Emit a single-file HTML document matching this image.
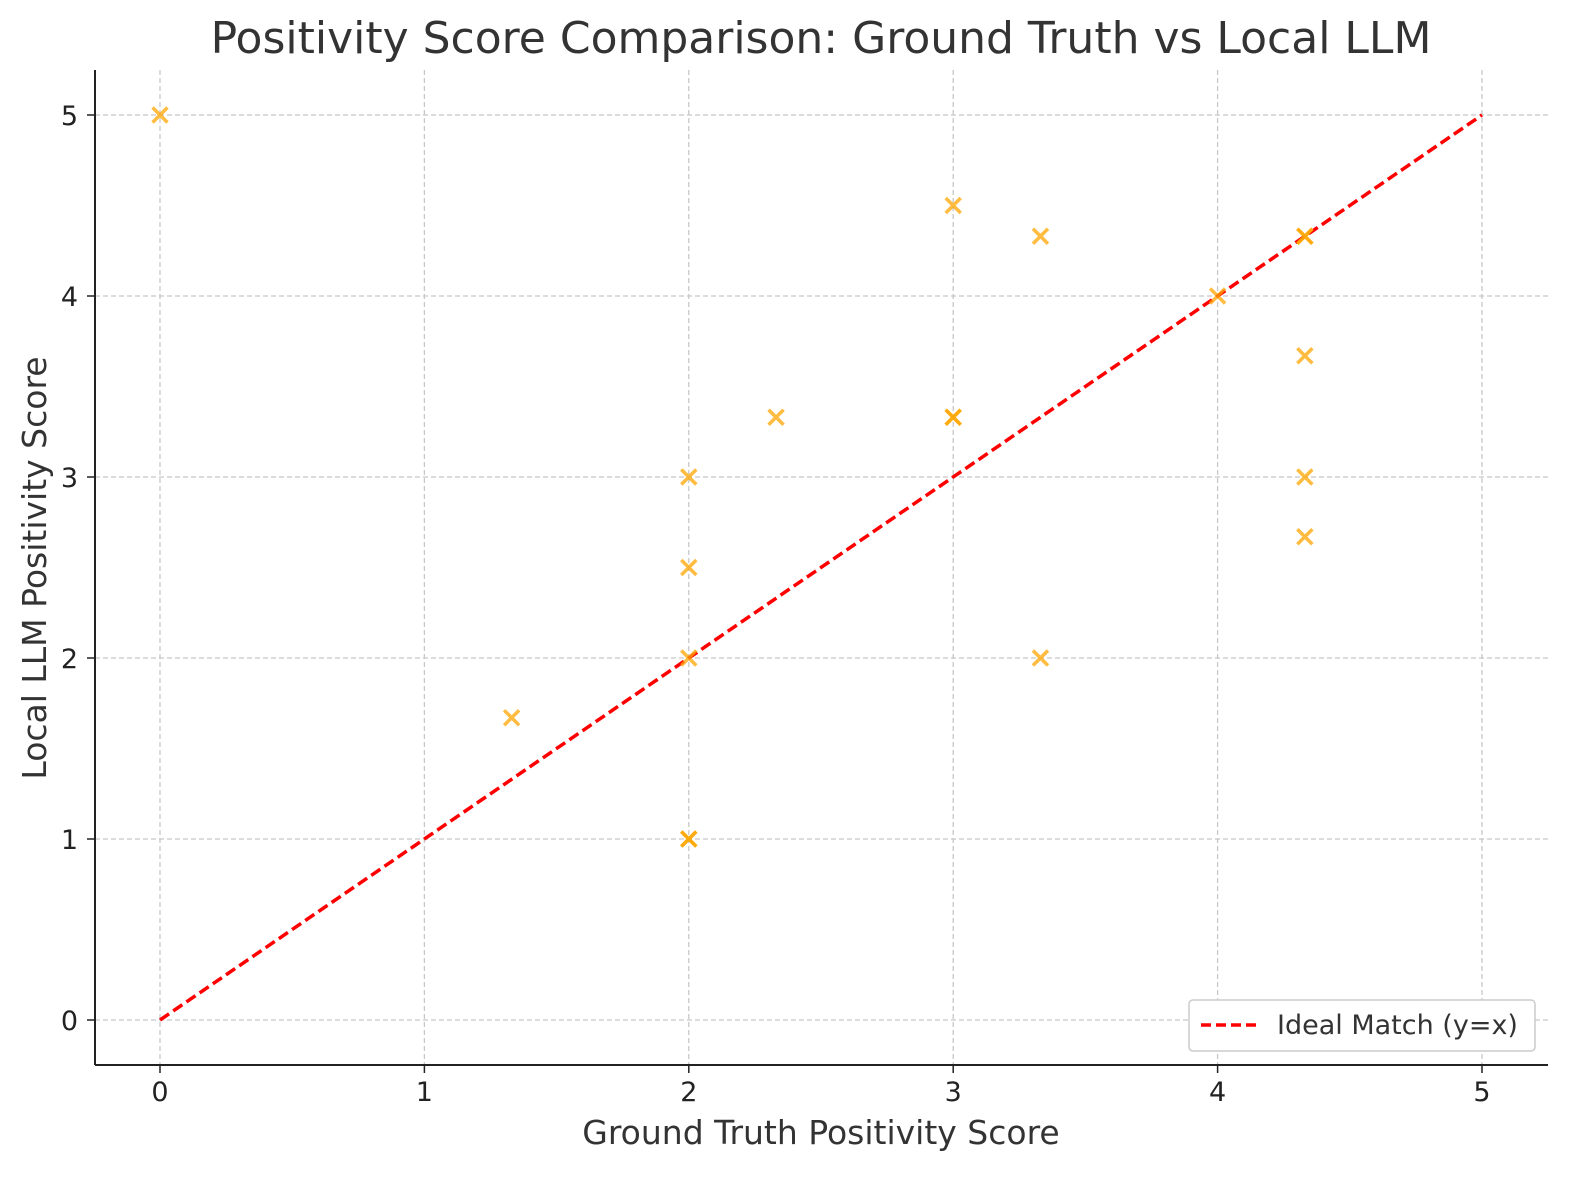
<!DOCTYPE html>
<html><head><meta charset="utf-8"><style>
body{margin:0;background:#fff;}
svg{display:block;font-family:"DejaVu Sans","Liberation Sans",sans-serif;}
</style></head><body>
<svg id="chart" width="1580" height="1180" viewBox="0 0 1580 1180">
<text x="821" y="53" text-anchor="middle" font-size="44" fill="#333">Positivity Score Comparison: Ground Truth vs Local LLM</text>
<g id="grid"></g>
<g id="ticks"></g>
<line x1="95" y1="70" x2="95" y2="1065" stroke="#222" stroke-width="2"/>
<line x1="95" y1="1065" x2="1548" y2="1065" stroke="#222" stroke-width="2"/>
<g id="ideal"></g>
<g id="points"></g>
<text x="821" y="1144" text-anchor="middle" font-size="33" fill="#333">Ground Truth Positivity Score</text>
<text transform="translate(46,568) rotate(-90)" text-anchor="middle" font-size="33" fill="#333">Local LLM Positivity Score</text>
<g>
<rect x="1189" y="1000" width="346" height="51" rx="4" fill="#fff" stroke="#ccc" stroke-width="1.5"/>
<line x1="1201" y1="1025" x2="1259" y2="1025" stroke="#ff0000" stroke-width="3.5" stroke-dasharray="10,5"/>
<text x="1277" y="1034" font-size="27" fill="#333">Ideal Match (y=x)</text>
</g>
</svg>
<script>
const xTicks=[0,1,2,3,4,5];
const yTicks=[0,1,2,3,4,5];
const gtScores=[0,3,3.33,4.33,4.33,4,4.33,2.33,3,3,2,4.33,4.33,2,2,3.33,1.33,2,2];
const llmScores=[5,4.5,4.33,4.33,4.33,4,3.67,3.33,3.33,3.33,3,3,2.67,2.5,2,2,1.67,1,1];
const idealLine=[0,5];
const NS="http://www.w3.org/2000/svg";
const xs=v=>160+v*264.4, ys=v=>1020-v*181;
function mk(t,a,p){const e=document.createElementNS(NS,t);for(const k in a)e.setAttribute(k,a[k]);p.appendChild(e);return e;}
const grid=document.getElementById('grid'),ticks=document.getElementById('ticks');
xTicks.forEach(v=>{
 const l=mk('line',{x1:xs(v),x2:xs(v),y1:70,y2:1065,stroke:'#c8c8c8','stroke-width':1.3,'stroke-dasharray':'5,3'},grid);
 
 
 const tk=mk('line',{x1:xs(v),x2:xs(v),y1:1065,y2:1073,stroke:'#222','stroke-width':1.5},ticks);
 
 
 const t=mk('text',{x:xs(v),y:1101,'text-anchor':'middle','font-size':27,fill:'#222'},ticks);t.textContent=v;
 
 
});
yTicks.forEach(v=>{
 const l=mk('line',{x1:95,x2:1548,y1:ys(v),y2:ys(v),stroke:'#c8c8c8','stroke-width':1.3,'stroke-dasharray':'5,3'},grid);
 
 
 const tk=mk('line',{x1:87,x2:95,y1:ys(v),y2:ys(v),stroke:'#222','stroke-width':1.5},ticks);
 
 
 const t=mk('text',{x:78,y:ys(v)+10,'text-anchor':'end','font-size':27,fill:'#222'},ticks);t.textContent=v;
 
 
});
const pts=document.getElementById('points');
gtScores.forEach((g,i)=>{
 const cx=xs(g),cy=ys(llmScores[i]),s=7.5;
 const p=mk('path',{d:`M${cx-s},${cy-s}L${cx+s},${cy+s}M${cx-s},${cy+s}L${cx+s},${cy-s}`,stroke:'#ffa500','stroke-opacity':0.75,'stroke-width':3.5},pts);
 
 
});
const il=mk('line',{x1:xs(idealLine[0]),y1:ys(idealLine[0]),x2:xs(idealLine[1]),y2:ys(idealLine[1]),stroke:'#ff0000','stroke-width':3.5,'stroke-dasharray':'11,5'},document.getElementById('ideal'));


</script>
</body></html>
